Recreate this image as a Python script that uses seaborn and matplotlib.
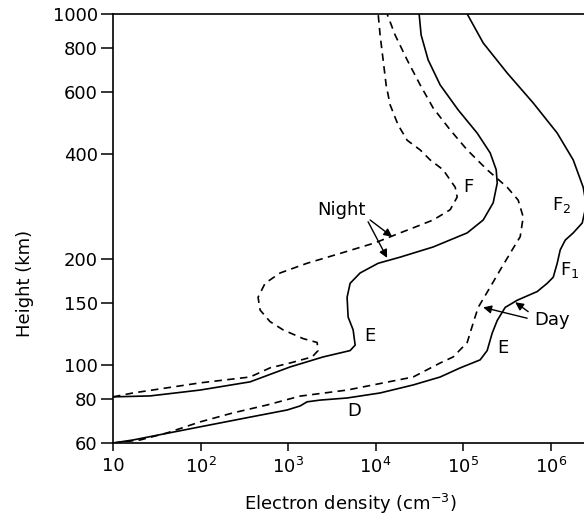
import matplotlib
matplotlib.use("Agg")
import matplotlib.pyplot as plt
import seaborn as sns
import pandas as pd
from matplotlib.ticker import NullLocator, FixedLocator, FixedFormatter

sns.set_style("ticks")
plt.rcParams["font.family"] = ["DejaVu Sans"]
for key in ["text.color", "axes.labelcolor", "xtick.color", "ytick.color", "axes.edgecolor"]:
    plt.rcParams[key] = "black"

# electron density (cm^-3) vs height (km)
night_solid_density = [10, 26.5, 98.6, 368, 1054, 2512, 5114, 5834, 5534, 4850, 4721, 5114,
                       6653, 10690, 19050, 45400, 111200, 169400, 220300, 244900, 238400,
                       203600, 144500, 87700, 54600, 39800, 33100, 31400]
night_solid_height = [81.2, 81.7, 84.9, 89.6, 98.8, 105.5, 110, 114, 126, 137, 156, 171,
                      183, 195, 203, 217, 238, 259, 290, 330, 360, 402, 458, 533, 628, 740,
                      871, 1000]

night_dashed_density = [10, 16.9, 98.6, 368, 622, 1054, 1880, 2203, 2145, 1483, 877, 622,
                        479, 454, 546, 811, 1648, 3930, 9860, 19050, 26850, 45400, 71000,
                        85400, 81100, 59000, 42000, 32280, 22900, 18070, 14650, 13180,
                        12180, 11250, 10690]
night_dashed_height = [81.2, 83.3, 89.0, 92.5, 98.2, 101.4, 105.5, 110, 116, 119, 126, 133,
                       143.5, 156, 171, 183, 195, 208, 223, 238, 246, 259, 277, 301, 321,
                       360, 384, 410, 437, 483, 551, 628, 740, 871, 1000]

day_dashed_density = [10, 20.4, 41.4, 98.6, 235, 576, 1371, 4721, 26850, 54600, 76900,
                      111200, 130100, 148400, 203600, 264900, 363000, 447900, 485200,
                      425000, 318400, 188000, 111200, 71000, 45400, 32280, 22900, 16700,
                      13530]
day_dashed_height = [60, 61.2, 64.1, 68.9, 73.1, 77.0, 81.6, 84.9, 92.5, 101.4, 105.5, 116,
                     131.8, 146, 166.8, 186.7, 212.9, 232, 264, 295, 321, 360, 410, 467.7,
                     540, 628, 740, 871, 1000]

day_solid_density = [10, 16.9, 98.6, 368, 975, 1371, 1648, 2323, 4721, 11250, 26850, 54600,
                     92500, 156300, 188000, 214400, 244900, 302000, 414000, 701000, 912000,
                     1.069e6, 1.186e6, 1.285e6, 1.466e6, 1.808e6, 2.291e6, 2.55e6, 2.35e6,
                     1.808e6, 1.186e6, 631000, 318400, 169400, 111200]
day_solid_height = [60, 61.2, 66.7, 71.1, 74.5, 76.5, 78.6, 79.5, 80.6, 83.3, 87.8, 92.5,
                    98.2, 103.5, 110, 123.3, 134, 146, 153, 162, 171, 178, 195, 213, 227,
                    238, 254, 286, 321, 384, 458, 558, 679, 827, 1000]

curves = [
    ("night_solid", night_solid_density, night_solid_height, "-"),
    ("night_dashed", night_dashed_density, night_dashed_height, "--"),
    ("day_dashed", day_dashed_density, day_dashed_height, "--"),
    ("day_solid", day_solid_density, day_solid_height, "-"),
]

y_ticks = [60, 80, 100, 150, 200, 400, 600, 800, 1000]
x_ticks = [1e1, 1e2, 1e3, 1e4, 1e5, 1e6]
x_tick_labels = ["10", "$10^2$", "$10^3$", "$10^4$", "$10^5$", "$10^6$"]

# region labels: text, density, height
region_labels = [
    ("Night", 4035, 277),
    ("F", 114000, 322),
    ("F$_2$", 1.35e6, 286),
    ("F$_1$", 1.63e6, 187),
    ("Day", 1.04e6, 134),
    ("E", 287000, 112),
    ("E", 8650, 121),
    ("D", 5680, 74),
]

# arrows: (start density, start height, end density, end height)
arrows = [
    (8650, 259, 15450, 232),
    (8200, 256, 13530, 202),
    (538000, 136, 169400, 146),
    (553000, 142, 393000, 151),
]

fig = plt.figure(figsize=(5.84, 5.20), dpi=100)
ax = fig.add_axes([113 / 584, 1 - 443 / 520, 1 - 113 / 584, (443 - 14) / 520])

for name, dens, hgt, ls in curves:
    df = pd.DataFrame({"density": dens, "height": hgt})
    sns.lineplot(data=df, x="density", y="height", sort=False, estimator=None,
                 color="black", linewidth=1.2, ax=ax)
    line = ax.lines[-1]
    line.set_solid_joinstyle("round")
    if ls == "--":
        line.set_dashes([4.5, 3.2])

ax.set_xscale("log")
ax.set_yscale("log")
ax.set_xlim(10, 2.4e6)
ax.set_ylim(60, 1000)

ax.yaxis.set_major_locator(FixedLocator(y_ticks))
ax.yaxis.set_major_formatter(FixedFormatter([str(t) for t in y_ticks]))
ax.yaxis.set_minor_locator(NullLocator())
ax.xaxis.set_major_locator(FixedLocator(x_ticks))
ax.xaxis.set_major_formatter(FixedFormatter(x_tick_labels))
ax.xaxis.set_minor_locator(NullLocator())

ax.tick_params(axis="y", direction="out", length=9, width=1.1, pad=2, labelsize=13)
ax.tick_params(axis="x", direction="out", length=6, width=1.1, pad=4, labelsize=13)

for side in ["left", "bottom", "top"]:
    ax.spines[side].set_linewidth(1.2)
ax.spines["right"].set_visible(False)

ax.set_xlabel("Electron density (cm$^{-3}$)", fontsize=13)
ax.set_ylabel("Height (km)", fontsize=13)
ax.xaxis.set_label_coords(0.505, -0.115)
ax.yaxis.set_label_coords(-0.168, 0.371)

for text, xd, yd in region_labels:
    ax.text(xd, yd, text, fontsize=13, ha="center", va="center")

for x0, y0, x1, y1 in arrows:
    ax.annotate("", xy=(x1, y1), xytext=(x0, y0),
                arrowprops=dict(arrowstyle="-|>", color="black", lw=1.0,
                                mutation_scale=12, shrinkA=0, shrinkB=0))

fig.savefig("out.png", dpi=100)
